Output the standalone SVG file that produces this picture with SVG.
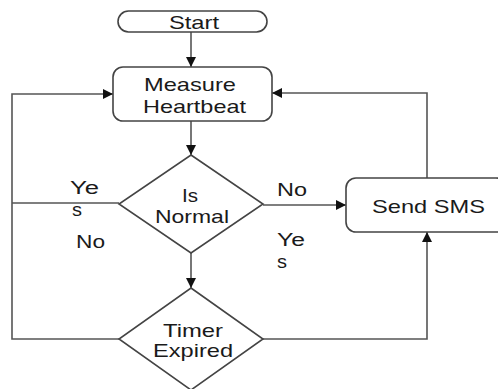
<svg xmlns="http://www.w3.org/2000/svg" width="498" height="389" viewBox="0 0 498 389">
<defs>
<marker id="ah" viewBox="0 0 10 10" refX="10" refY="5" markerWidth="10" markerHeight="10" markerUnits="userSpaceOnUse" orient="auto">
<path d="M0,0 L10,5 L0,10 Z" fill="#111"/>
</marker>
</defs>
<style>
.shape{fill:#fff;stroke:#444;stroke-width:1.6}
.line{fill:none;stroke:#555;stroke-width:1.6}
.arr{marker-end:url(#ah)}
text{font-family:"Liberation Sans",Arial,sans-serif;fill:#1a1a1a;font-size:19px}
.lbl{font-size:18px}
</style>
<rect width="498" height="389" fill="#fff"/>
<g id="connectors">
<line class="line arr" x1="191" y1="32" x2="191" y2="67"/>
<line class="line arr" x1="191" y1="121" x2="191" y2="155"/>
<line class="line arr" x1="191" y1="253" x2="191" y2="288"/>
<line class="line arr" x1="263" y1="205" x2="346" y2="205"/>
<polyline class="line arr" points="427,178 427,93 272,93"/>
<polyline class="line arr" points="263,339 427,339 427,232"/>
<line class="line" x1="119" y1="203" x2="12" y2="203"/>
<polyline class="line arr" points="119,339 12,339 12,94 113,94"/>
<text class="lbl" x="70" y="194" textLength="29" lengthAdjust="spacingAndGlyphs">Ye</text>
<text class="lbl" x="72" y="216" textLength="10" lengthAdjust="spacingAndGlyphs">s</text>
<text class="lbl" x="76" y="248" textLength="29" lengthAdjust="spacingAndGlyphs">No</text>
<text class="lbl" x="277" y="196" textLength="30" lengthAdjust="spacingAndGlyphs">No</text>
<text class="lbl" x="277" y="246" textLength="28" lengthAdjust="spacingAndGlyphs">Ye</text>
<text class="lbl" x="277" y="268" textLength="10" lengthAdjust="spacingAndGlyphs">s</text>
</g>
<g id="start">
<rect class="shape" x="118" y="11" width="149" height="21" rx="10.5"/>
<text x="169" y="29" textLength="50" lengthAdjust="spacingAndGlyphs">Start</text>
</g>
<g id="measure">
<rect class="shape" x="113" y="67" width="159" height="54" rx="10"/>
<text x="144" y="91" textLength="92" lengthAdjust="spacingAndGlyphs">Measure</text>
<text x="143" y="113" textLength="103" lengthAdjust="spacingAndGlyphs">Heartbeat</text>
</g>
<g id="isnormal">
<polygon class="shape" points="191,155 263,204 191,253 119,204"/>
<text x="182" y="202" textLength="16" lengthAdjust="spacingAndGlyphs">Is</text>
<text x="155" y="223" textLength="74" lengthAdjust="spacingAndGlyphs">Normal</text>
</g>
<g id="timer">
<polygon class="shape" points="191,288 263,339 191,390 119,339"/>
<text x="163" y="337" textLength="60" lengthAdjust="spacingAndGlyphs">Timer</text>
<text x="153" y="357" textLength="80" lengthAdjust="spacingAndGlyphs">Expired</text>
</g>
<g id="sendsms">
<rect class="shape" x="346" y="178" width="160" height="54" rx="10"/>
<text x="372" y="213" textLength="113" lengthAdjust="spacingAndGlyphs">Send SMS</text>
</g>
</svg>
